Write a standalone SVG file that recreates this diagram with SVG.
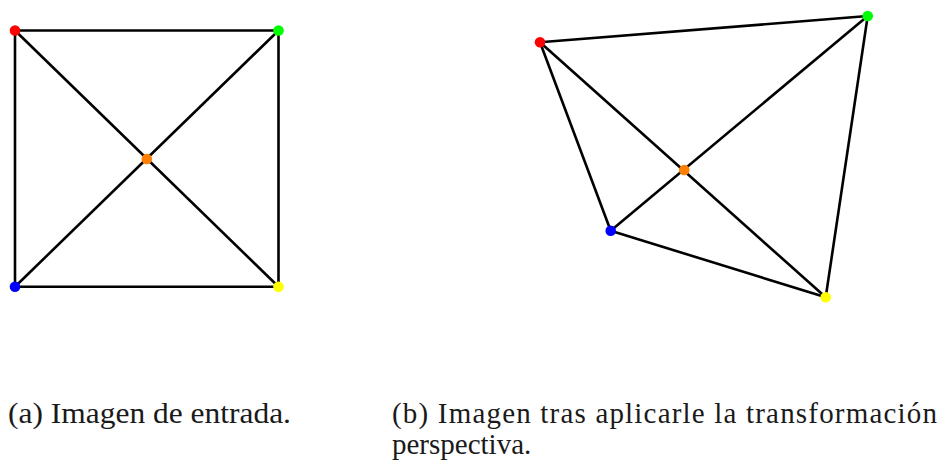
<svg xmlns="http://www.w3.org/2000/svg" width="942" height="461" viewBox="0 0 942 461">
<style>
.e{stroke:#000;stroke-width:2.6;fill:none}
.t{font-family:"Liberation Serif","Times New Roman",serif;font-size:29px;fill:#1a1a1a}
</style>
<rect width="942" height="461" fill="#fff"/>
<g id="connectors">
<line class="e" x1="15" y1="30.5" x2="278.5" y2="30.5"/>
<line class="e" x1="15" y1="30.5" x2="15" y2="286.7"/>
<line class="e" x1="278.5" y1="30.5" x2="278.5" y2="286.7"/>
<line class="e" x1="15" y1="286.7" x2="278.5" y2="286.7"/>
<line class="e" x1="15" y1="30.5" x2="278.5" y2="286.7"/>
<line class="e" x1="278.5" y1="30.5" x2="15" y2="286.7"/>
<line class="e" x1="540" y1="42.3" x2="867.7" y2="16"/>
<line class="e" x1="540" y1="42.3" x2="610.7" y2="230.7"/>
<line class="e" x1="540" y1="42.3" x2="825.7" y2="297.3"/>
<line class="e" x1="867.7" y1="16" x2="610.7" y2="230.7"/>
<line class="e" x1="867.7" y1="16" x2="825.7" y2="297.3"/>
<line class="e" x1="610.7" y1="230.7" x2="825.7" y2="297.3"/>
</g>
<g id="a-red"><circle cx="15" cy="30.5" r="5.3" fill="#ff0000"/></g>
<g id="a-green"><circle cx="278.5" cy="30.5" r="5.3" fill="#00ff00"/></g>
<g id="a-blue"><circle cx="15" cy="286.7" r="5.3" fill="#0000ff"/></g>
<g id="a-yellow"><circle cx="278.5" cy="286.7" r="5.3" fill="#ffff00"/></g>
<g id="a-orange"><circle cx="146.8" cy="159" r="5.3" fill="#ff8000"/></g>
<g id="b-red"><circle cx="540" cy="42.3" r="5.3" fill="#ff0000"/></g>
<g id="b-green"><circle cx="867.7" cy="16" r="5.3" fill="#00ff00"/></g>
<g id="b-blue"><circle cx="610.7" cy="230.7" r="5.3" fill="#0000ff"/></g>
<g id="b-yellow"><circle cx="825.7" cy="297.3" r="5.3" fill="#ffff00"/></g>
<g id="b-orange"><circle cx="684.3" cy="170" r="5.3" fill="#ff8000"/></g>
<g id="captions">
<text class="t" x="8" y="423" textLength="283" lengthAdjust="spacingAndGlyphs">(a) Imagen de entrada.</text>
<text class="t" x="392" y="423" textLength="545" lengthAdjust="spacing">(b) Imagen tras aplicarle la transformación</text>
<text class="t" x="392" y="454">perspectiva.</text>
</g>
</svg>
